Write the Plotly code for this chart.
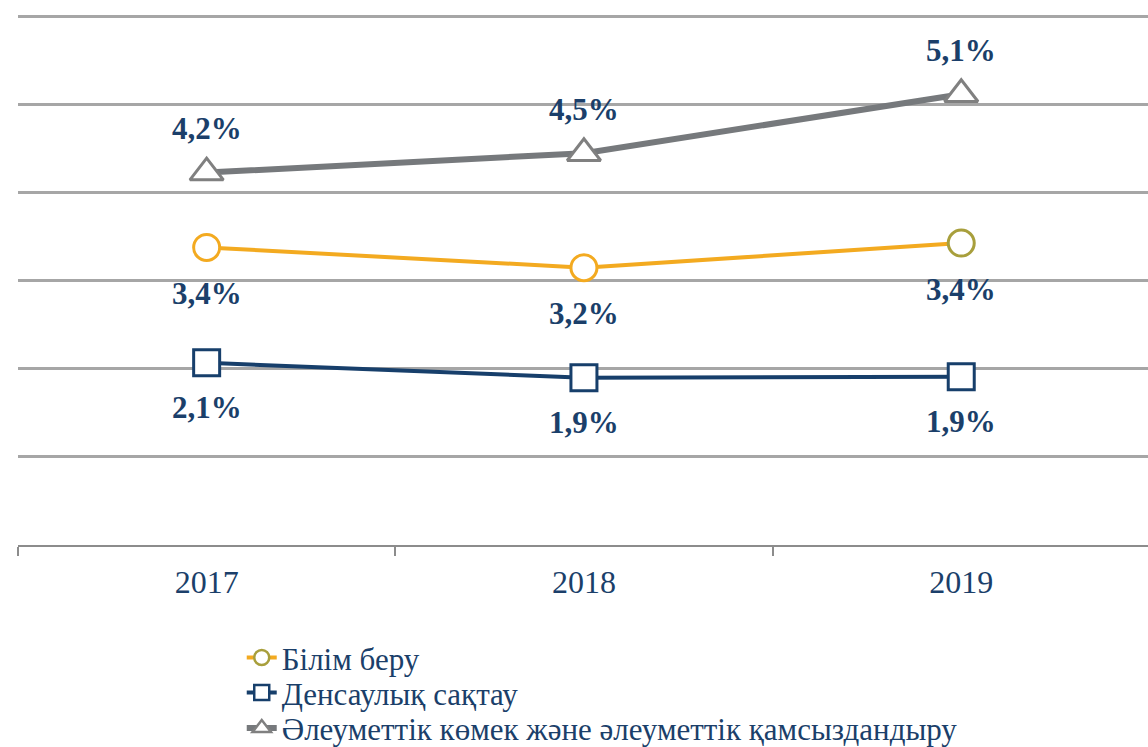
import plotly.graph_objects as go

years = ["2017", "2018", "2019"]
edu = [3.38, 3.15, 3.43]
health = [2.07, 1.90, 1.91]
social = [4.23, 4.45, 5.12]
edu_labels = ["3,4%", "3,2%", "3,4%"]
health_labels = ["2,1%", "1,9%", "1,9%"]
social_labels = ["4,2%", "4,5%", "5,1%"]
names = ["Білім беру", "Денсаулық сақтау", "Әлеуметтік көмек және әлеуметтік қамсыздандыру"]

ORANGE = "#F3AA20"
OLIVE = "#A89F3C"
NAVY = "#173F6B"
GRAY = "#76797C"
GRAY_M = "#808080"
LABEL = "#1B3F6A"
SERIF = "Liberation Serif, DejaVu Serif, serif"

fig = go.Figure()

fig.add_trace(go.Scatter(x=years, y=edu, mode="lines+markers", showlegend=False,
                         line=dict(color=ORANGE, width=4),
                         marker=dict(symbol="circle", size=26, color="white",
                                     line=dict(color=[ORANGE, ORANGE, OLIVE], width=3))))
fig.add_trace(go.Scatter(x=years, y=health, mode="lines+markers", showlegend=False,
                         line=dict(color=NAVY, width=4),
                         marker=dict(symbol="square", size=26, color="white",
                                     line=dict(color=NAVY, width=3))))
fig.add_trace(go.Scatter(x=years, y=social, mode="lines+markers", showlegend=False,
                         line=dict(color=GRAY, width=6),
                         marker=dict(symbol="triangle-up", size=29, color="white",
                                     line=dict(color=GRAY_M, width=3))))

# legend entries, one legend each so rows can be spaced like the reference
fig.add_trace(go.Scatter(x=[None], y=[None], mode="lines+markers", name=names[0], legend="legend",
                         line=dict(color=ORANGE, width=4),
                         marker=dict(symbol="circle", size=15, color="white",
                                     line=dict(color=OLIVE, width=2.5))))
fig.add_trace(go.Scatter(x=[None], y=[None], mode="lines+markers", name=names[1], legend="legend2",
                         line=dict(color=NAVY, width=4),
                         marker=dict(symbol="square", size=15, color="white",
                                     line=dict(color=NAVY, width=2.5))))
fig.add_trace(go.Scatter(x=[None], y=[None], mode="lines+markers", name=names[2], legend="legend3",
                         line=dict(color=GRAY, width=6),
                         marker=dict(symbol="triangle-up", size=16, color="white",
                                     line=dict(color=GRAY_M, width=2.5))))

annotations = []
for ys, labs, shift in [(edu, edu_labels, -46), (health, health_labels, -45), (social, social_labels, 44)]:
    for i, (y, t) in enumerate(zip(ys, labs)):
        annotations.append(dict(x=i, y=y, xref="x", yref="y", text="<b>%s</b>" % t, showarrow=False,
                                yshift=shift, font=dict(family=SERIF, size=31, color=LABEL)))

leg_common = dict(xanchor="left", yanchor="middle", orientation="v",
                  font=dict(family=SERIF, size=31, color=LABEL), bgcolor="rgba(0,0,0,0)")

fig.update_layout(
    width=1148, height=747,
    margin=dict(l=18, r=0, t=15, b=202, autoexpand=False),
    paper_bgcolor="white", plot_bgcolor="white",
    annotations=annotations,
    xaxis=dict(type="category", range=[-0.5, 2.495], showgrid=False,
               showline=True, linecolor="#8C8C8C", linewidth=2,
               ticks="outside", tickson="boundaries", ticklen=9, tickwidth=2, tickcolor="#8C8C8C",
               tickfont=dict(family=SERIF, size=32, color=LABEL), ticklabelstandoff=8),
    yaxis=dict(range=[0, 6.02], dtick=1, showgrid=True, gridcolor="#A6A6A6", gridwidth=2.5,
               showticklabels=False, zeroline=False, showline=False),
    legend=dict(x=0.198, y=-0.213, **leg_common),
    legend2=dict(x=0.198, y=-0.279, **leg_common),
    legend3=dict(x=0.198, y=-0.346, **leg_common),
)

fig.write_html("out.html", config={"displayModeBar": False},
               post_script="document.body.style.margin='0';document.body.style.overflow='hidden';")
